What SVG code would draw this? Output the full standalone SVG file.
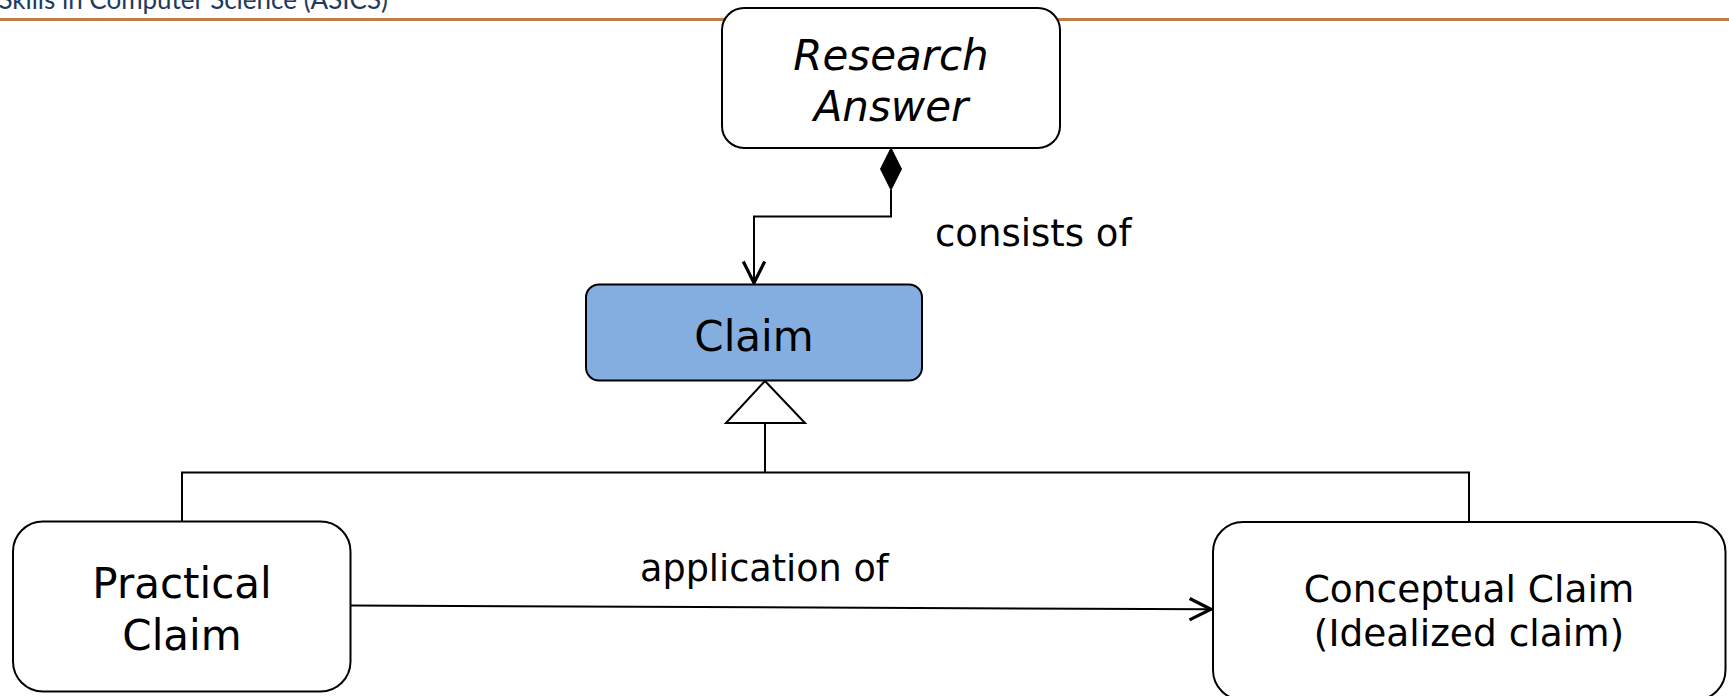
<svg xmlns="http://www.w3.org/2000/svg" width="1729" height="696" viewBox="0 0 1729 696">
  <defs>
    <style>
      .node { fill: #ffffff; stroke: #000000; stroke-width: 2; }
      .claim { fill: #84AEDF; stroke: #000000; stroke-width: 2; }
      .lbl { font-family: "DejaVu Sans", Verdana, sans-serif; fill: #000000; text-anchor: middle; }
      .edge { fill: none; stroke: #000000; stroke-width: 2; }
      .elbl { font-family: "DejaVu Sans", Verdana, sans-serif; fill: #000000; }
    </style>
    <marker id="open" markerUnits="userSpaceOnUse" markerWidth="30" markerHeight="30" viewBox="-24 -12 28 24" refX="0" refY="0" orient="auto">
      <path d="M-20,-10 L0,0 L-20,10" fill="none" stroke="#000" stroke-width="3"/>
    </marker>
  </defs>
  <rect x="0" y="0" width="1729" height="696" fill="#ffffff"/>
  <g id="header">
    <text x="388" y="9" font-family="Lato, 'Open Sans', sans-serif" font-size="26" fill="#1F3A60" text-anchor="end">Skills in Computer Science (ASICS)</text>
    <line x1="0" y1="19.5" x2="1729" y2="19.5" stroke="#BF7E45" stroke-width="3"/>
  </g>
  <g id="connectors">
    <path class="edge" d="M891,190 V216.5 H754 V283" marker-end="url(#open)"/>
    <polygon points="891,148 901.5,169 891,190 880.5,169" fill="#000" stroke="#000" stroke-width="1"/>
    <path class="edge" d="M765,423 V472.5 M182,521 V472.5 H1469 V522"/>
    <polygon points="765,381 805,423 726,423" fill="#fff" stroke="#000" stroke-width="2"/>
    <line class="edge" x1="351" y1="605.5" x2="1211" y2="609.3" marker-end="url(#open)"/>
    <text class="elbl" x="935" y="246" font-size="37">consists of</text>
    <text class="elbl" x="640" y="581" font-size="36.6">application of</text>
  </g>
  <g id="research-answer">
    <rect class="node" x="722" y="8" width="338" height="140" rx="22"/>
    <text class="lbl" x="891" y="70" font-size="42" font-style="italic">Research</text>
    <text class="lbl" x="891" y="121" font-size="42" font-style="italic">Answer</text>
  </g>
  <g id="claim">
    <rect class="claim" x="586" y="284.5" width="336" height="96" rx="13"/>
    <text class="lbl" x="754" y="351" font-size="42">Claim</text>
  </g>
  <g id="practical-claim">
    <rect class="node" x="13" y="521.5" width="337.5" height="170" rx="30"/>
    <text class="lbl" x="182" y="598" font-size="42">Practical</text>
    <text class="lbl" x="182" y="650" font-size="42">Claim</text>
  </g>
  <g id="conceptual-claim">
    <rect class="node" x="1213" y="522" width="512.5" height="178" rx="30"/>
    <text class="lbl" x="1469" y="602" font-size="37.5">Conceptual Claim</text>
    <text class="lbl" x="1469" y="646" font-size="37.5">(Idealized claim)</text>
  </g>
</svg>
